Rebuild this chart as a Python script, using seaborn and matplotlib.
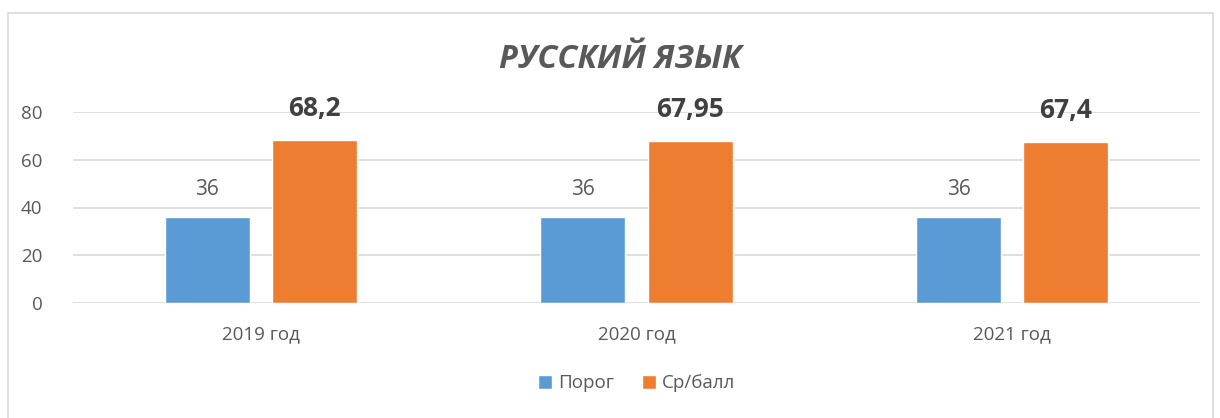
import matplotlib
matplotlib.use("Agg")
import matplotlib.pyplot as plt
import seaborn as sns
import pandas as pd
from matplotlib.patches import Rectangle

categories = ["2019 год", "2020 год", "2021 год"]
porog = [36, 36, 36]
sr_ball = [68.2, 67.95, 67.4]
sr_labels = ["68,2", "67,95", "67,4"]
series_names = ["Порог", "Ср/балл"]
yticks = [0, 20, 40, 60, 80]
title = "РУССКИЙ ЯЗЫК"

sns.set_theme(style="white")
plt.rcParams['font.family'] = ['Open Sans', 'DejaVu Sans']

df = pd.DataFrame({
    "cat": categories * 2,
    "val": porog + sr_ball,
    "series": [series_names[0]] * 3 + [series_names[1]] * 3,
})

text_c = "#595959"
fig = plt.figure(figsize=(12.2, 4.18), dpi=100)
ax = fig.add_axes([73/1220, 1-303/418, (1200-73)/1220, (303-112)/418])

sns.barplot(data=df, x="cat", y="val", hue="series", ax=ax,
            palette=["#5B9BD5", "#ED7D31"], width=0.572, gap=0.21,
            saturation=1, legend=True)

ax.set_ylim(0, 80)
ax.set_yticks(yticks)
ax.set_xlim(-0.5, 2.5)
ax.yaxis.grid(True, color="#D9D9D9", linewidth=1.2)
ax.set_axisbelow(True)
for s in ax.spines.values():
    s.set_visible(False)
ax.tick_params(axis="both", length=0, labelsize=13.5, colors=text_c)
ax.tick_params(axis="x", pad=16)
ax.tick_params(axis="y", pad=22)
ax.set_xlabel("")
ax.set_ylabel("")

# data labels
c0, c1 = ax.containers[0], ax.containers[1]
ax.bar_label(c0, labels=[str(v) for v in porog], padding=12, fontsize=15, color=text_c)
ax.bar_label(c1, labels=sr_labels, padding=13, fontsize=19, fontweight="bold", color="#404040")

leg = ax.legend(loc="center", bbox_to_anchor=(0.5, -0.42), ncol=2, frameon=False,
                fontsize=13.5, handlelength=0.75, handleheight=0.75, handletextpad=0.3,
                columnspacing=1.5, labelcolor=text_c)

fig.text(620/1220, 1-60/418, title, ha="center", va="center", fontsize=23.5,
         fontweight="bold", fontstyle="italic", color=text_c)

fig.patches.append(Rectangle((8/1220, -0.01), (1213-8)/1220, 1-13/418+0.01,
                             transform=fig.transFigure, fill=False,
                             edgecolor="#D9D9D9", linewidth=1.2))

fig.savefig("out.png", dpi=100)
